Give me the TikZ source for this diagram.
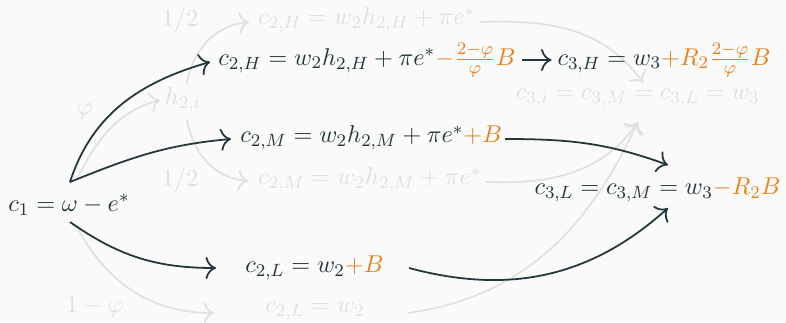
\documentclass[tikz,border=0pt]{standalone}
\usepackage{xcolor}
\usetikzlibrary{arrows.meta}
\definecolor{mdark}{HTML}{23373B}
\definecolor{morange}{HTML}{EB811B}
\definecolor{mghost}{HTML}{E0E0E0}
\definecolor{mbg}{HTML}{FAFAFA}
\tikzset{
  dk/.style={draw=mdark, line width=0.8pt, -{To[scale=1.4]}},
  gh/.style={draw=mghost, line width=0.75pt, -{To[scale=1.4]}},
  dtext/.style={text=mdark, inner sep=0pt, font=\fontsize{11}{13}\selectfont},
  gtext/.style={text=mghost, inner sep=0pt, font=\fontsize{11}{13}\selectfont},
}
\begin{document}
\begin{tikzpicture}[x=0.45pt,y=-0.45pt]
\fill[mbg] (0,0) rectangle (786,322);
\useasboundingbox (0,0) rectangle (786,322);
% ghost layer
\node[gtext] (ghalfa) at (180,20) {$1/2$};
\node[gtext, anchor=west] (g2H) at (258,20) {$c_{2,H} = w_2 h_{2,H} + \pi e^*$};
\node[gtext] (gh2i) at (183,100) {$h_{2,i}$};
\node[gtext] (gphi) at (85,112) {$\varphi$};
\node[gtext] (ghalfb) at (180,180) {$1/2$};
\node[gtext, anchor=west] (g2M) at (258,180) {$c_{2,M} = w_2 h_{2,M} + \pi e^*$};
\node[gtext, anchor=east] (g3i) at (760,98) {$c_{3,i} = c_{3,M} = c_{3,L} = w_3$};
\node[gtext] (gomphi) at (95,307) {$1-\varphi$};
\node[gtext, anchor=west] (g2L) at (265,311) {$c_{2,L} = w_2$};
\coordinate (gc1t) at (76,180);
\coordinate (gc1b) at (77,227);
\coordinate (gh2iin) at (160,100);
\coordinate (gh2it) at (187,83);
\coordinate (gh2ib) at (187,120);
\coordinate (g2Hin) at (249,22);
\coordinate (g2Min) at (248,181);
\coordinate (g2Lin) at (214,313);
\coordinate (g2Hout) at (480,22);
\coordinate (g2Mout) at (486,182);
\coordinate (g2Lout) at (408,313);
\coordinate (g3itop) at (643,83);
\coordinate (g3ibot) at (638,122);
\draw[gh] (gc1t) to[out=62,in=195] (gh2iin);
\draw[gh] (gh2it) to[out=80,in=185] (g2Hin);
\draw[gh] (gh2ib) to[out=-80,in=175] (g2Min);
\draw[gh] (gc1b) to[out=-62,in=180] (g2Lin);
\draw[gh] (g2Hout) to[out=2,in=125] (g3itop);
\draw[gh] (g2Mout) to[out=-2,in=235] (g3ibot);
\draw[gh] (g2Lout) to[out=8,in=245] (g3ibot);
% main layer
\node[dtext, anchor=west] (c1) at (8,205) {$c_1 = \omega - e^*$};
\node[dtext, anchor=west] (c2H) at (218,60) {$c_{2,H} = w_2 h_{2,H} + \pi e^*\textcolor{morange}{-\frac{2-\varphi}{\varphi}B}$};
\node[dtext, anchor=east] (c3H) at (771,60) {$c_{3,H} = w_3\textcolor{morange}{+R_2\frac{2-\varphi}{\varphi}B}$};
\node[dtext, anchor=west] (c2M) at (240,138) {$c_{2,M} = w_2 h_{2,M} + \pi e^*\textcolor{morange}{+B}$};
\node[dtext, anchor=east] (c3L) at (781,190) {$c_{3,L} = c_{3,M} = w_3\textcolor{morange}{-R_2B}$};
\node[dtext, anchor=west] (c2L) at (245,268) {$c_{2,L} = w_2\textcolor{morange}{+B}$};
\coordinate (c1t) at (70,182);
\coordinate (c1b) at (70,222);
\coordinate (c2Hin) at (210,62);
\coordinate (c2Min) at (231,139);
\coordinate (c2Lin) at (216,268);
\coordinate (c2Mout) at (505,139);
\coordinate (c2Lout) at (409,268);
\coordinate (c3Lt) at (668,165);
\coordinate (c3Lb) at (668,208);
\draw[dk] (c1t) to[out=72,in=196] (c2Hin);
\draw[dk] (c1t) to[out=22,in=185] (c2Min);
\draw[dk] (c1b) to[out=-35,in=180] (c2Lin);
\draw[dk, shorten <=2.5pt, shorten >=2.5pt] (c2H.east) -- (c2H.east -| c3H.west);
\draw[dk] (c2Mout) to[out=0,in=160] (c3Lt);
\draw[dk] (c2Lout) to[out=-15,in=222] (c3Lb);
\end{tikzpicture}
\end{document}
